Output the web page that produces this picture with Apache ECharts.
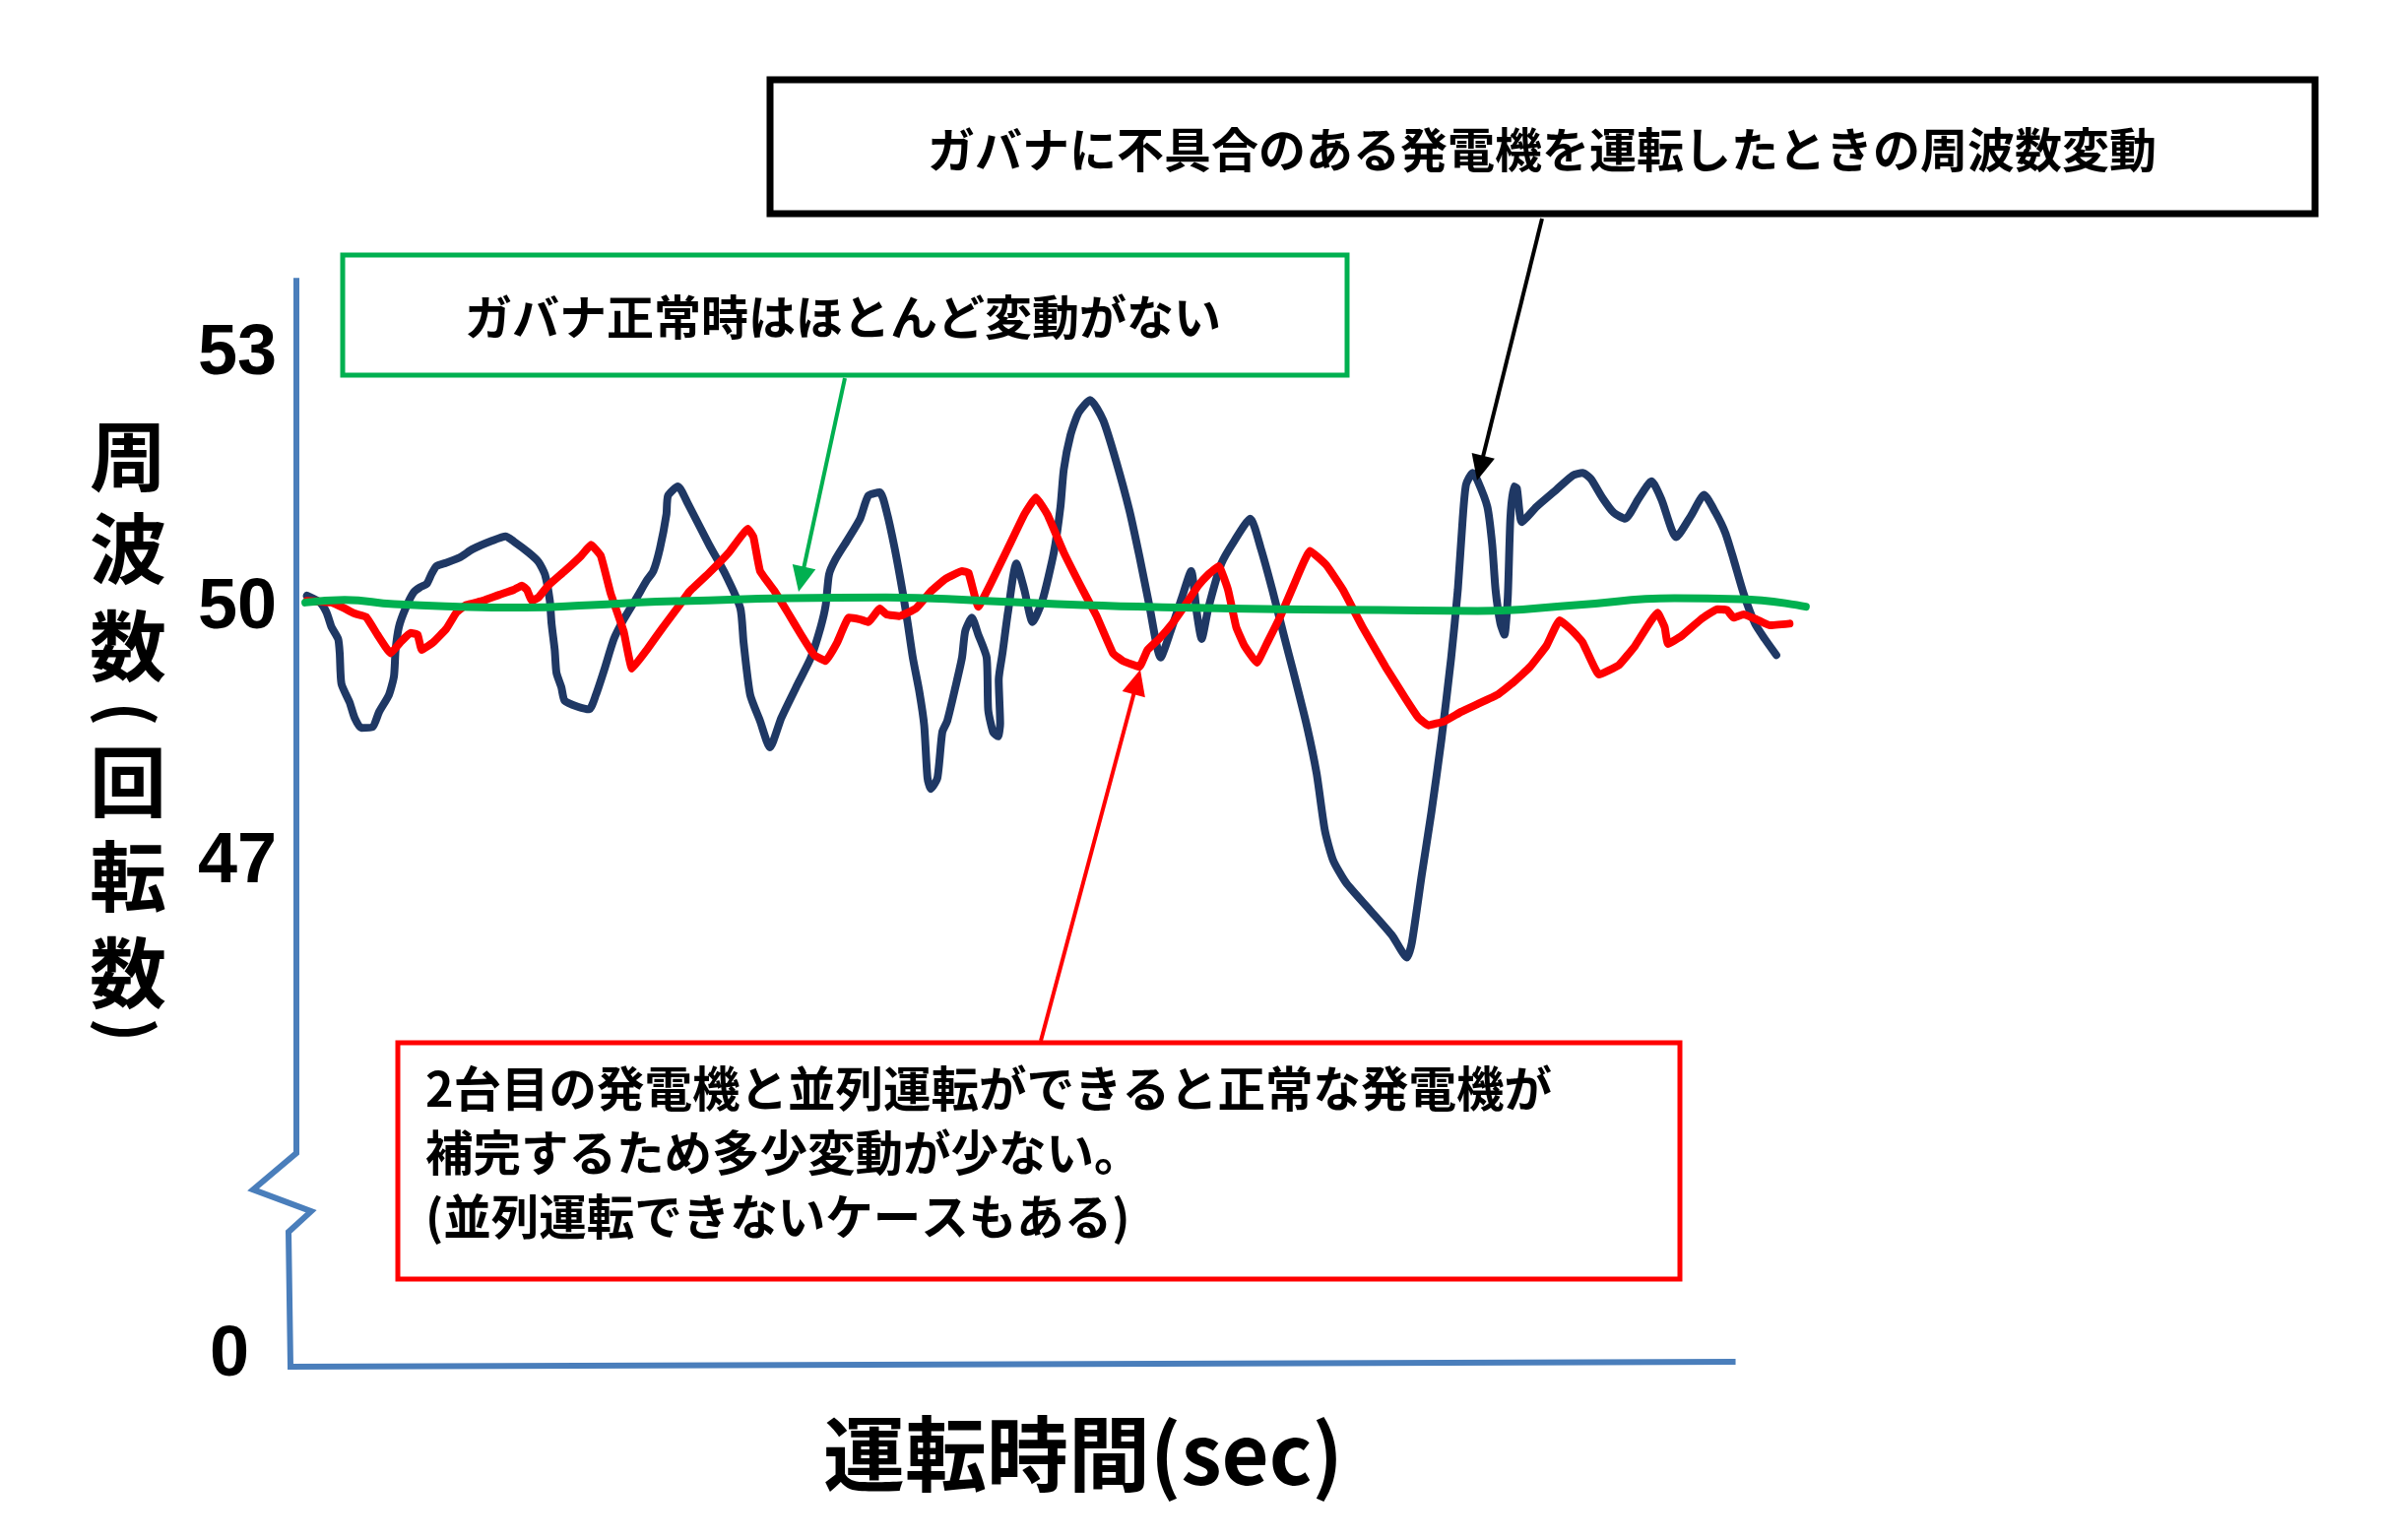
<!DOCTYPE html>
<html><head><meta charset="utf-8">
<script src="https://cdn.jsdelivr.net/npm/echarts@6/dist/echarts.min.js"></script>
<style>html,body{margin:0;padding:0;background:#fff}#c{width:2420px;height:1564px}</style>
</head><body><div id="c"></div>
<script>
// ---- data (time in arbitrary seconds, frequency in Hz) ----
const navyX = [0.73,1.64,2.10,2.44,2.90,3.01,3.13,3.70,4.04,4.50,5.29,5.75,6.43,6.78,6.89,7.12,7.58,8.15,8.60,9.06,9.40,9.74,10.42,11.34,12.25,13.62,14.53,15.11,16.13,16.82,17.27,17.61,17.73,17.95,18.07,18.41,18.64,19.55,20.35,20.81,21.38,22.06,22.74,23.66,24.34,24.80,25.26,25.71,25.82,26.51,27.19,28.68,29.82,30.85,31.07,31.53,32.22,32.90,33.70,34.84,35.75,36.43,36.78,37.01,37.46,38.26,39.17,39.74,40.54,41.00,41.57,42.14,42.48,42.83,43.28,43.62,43.85,44.08,44.54,44.88,45.22,45.79,46.25,46.47,46.93,47.38,47.96,48.07,48.41,48.75,48.90,48.80,49.06,49.44,50.02,50.58,51.15,51.83,52.63,53.09,53.32,53.78,54.35,55.15,56.06,56.97,57.89,58.57,59.26,60.05,60.74,61.53,62.17,62.56,62.90,63.36,64.27,65.18,66.28,67.01,67.81,68.60,69.29,70.20,70.89,71.46,72.03,72.94,74.54,76.13,77.16,77.50,78.19,78.87,79.56,80.24,80.70,81.04,81.27,81.73,82.07,82.75,83.09,83.32,83.66,83.94,84.17,84.35,84.58,84.80,85.15,86.17,87.54,88.69,89.37,89.94,90.73,91.53,92.33,93.24,94.16,94.84,95.87,96.89,97.81,98.61,99.29,99.86,100.55,101.35,102.03,102.83];
const navyY = [50.13,50.05,49.93,49.76,49.62,49.45,49.09,48.87,48.69,48.57,48.58,48.76,48.96,49.18,49.49,49.76,49.98,50.17,50.23,50.27,50.39,50.48,50.52,50.58,50.68,50.78,50.83,50.77,50.64,50.53,50.38,50.07,49.80,49.49,49.22,49.05,48.89,48.82,48.79,48.96,49.25,49.62,49.85,50.11,50.31,50.42,50.69,51.09,51.31,51.42,51.22,50.73,50.38,49.98,49.58,48.96,48.65,48.34,48.69,49.09,49.40,49.76,50.02,50.38,50.56,50.78,51.04,51.31,51.35,51.13,50.69,50.16,49.80,49.40,49.00,48.60,47.98,47.85,47.98,48.52,48.65,49.05,49.40,49.71,49.87,49.67,49.40,48.78,48.52,48.47,48.62,49.14,49.45,49.93,50.51,50.20,49.82,50.07,50.64,51.18,51.62,52.02,52.29,52.44,52.20,51.71,51.13,50.60,50.02,49.40,49.71,50.11,50.42,49.93,49.62,49.98,50.51,50.78,51.04,50.69,50.20,49.67,49.22,48.60,48.03,47.36,47.01,46.74,46.43,46.12,45.86,46.03,46.83,47.58,48.43,49.40,50.20,51.04,51.44,51.58,51.49,51.18,50.73,50.20,49.80,49.67,50.11,51.04,51.42,51.40,51.00,51.18,51.38,51.55,51.58,51.51,51.29,51.11,51.04,51.27,51.48,51.27,50.82,51.07,51.32,51.11,50.87,50.56,50.16,49.80,49.62,49.43];
const redX = [0.73,2.44,3.35,4.04,4.84,5.63,6.55,7.23,7.92,8.42,8.71,9.51,10.42,11.11,11.79,12.94,14.08,15.11,15.67,16.02,16.36,16.82,17.50,18.64,19.78,20.47,21.15,21.83,22.74,23.32,24.34,25.48,26.63,27.31,28.68,30.05,31.37,31.76,32.22,33.24,34.15,35.06,35.98,36.78,37.58,38.38,39.17,39.74,40.54,41.00,41.91,43.05,44.08,45.11,46.25,46.70,47.38,48.29,49.44,50.58,51.38,52.18,53.32,54.69,55.60,56.74,57.43,58.57,59.14,59.94,60.85,61.76,62.67,63.36,64.09,64.73,65.30,65.87,66.73,67.47,68.38,69.29,70.43,71.57,72.72,74.08,75.68,77.05,77.96,78.65,79.79,80.93,82.07,83.44,84.58,85.72,86.86,87.77,88.69,89.37,90.51,91.88,93.02,94.57,95.07,95.30,96.21,97.58,98.73,99.41,99.86,100.55,101.46,102.38,103.75];
const redY = [50.07,50.05,49.98,49.92,49.88,49.67,49.45,49.58,49.69,49.67,49.49,49.58,49.74,49.93,50.02,50.07,50.14,50.20,50.25,50.20,50.07,50.11,50.25,50.42,50.60,50.73,50.60,50.16,49.71,49.27,49.49,49.76,50.02,50.18,50.40,50.64,50.92,50.82,50.42,50.18,49.93,49.67,49.43,49.36,49.58,49.87,49.85,49.82,49.98,49.91,49.89,49.98,50.18,50.33,50.42,50.40,50.00,50.29,50.69,51.09,51.29,51.09,50.64,50.18,49.89,49.45,49.36,49.29,49.49,49.62,49.80,50.02,50.25,50.38,50.48,50.20,49.76,49.54,49.34,49.58,49.89,50.25,50.66,50.49,50.20,49.76,49.29,48.92,48.69,48.60,48.65,48.76,48.85,48.96,49.11,49.29,49.54,49.84,49.71,49.58,49.20,49.31,49.54,49.93,49.76,49.56,49.65,49.85,49.97,49.96,49.87,49.91,49.85,49.78,49.80];
const greenX = [0.62,3.35,6.78,11.34,15.90,20.47,25.03,27.31,34.15,41.00,47.84,54.69,61.53,68.38,75.22,82.07,88.91,95.76,100.32,104.88];
const greenY = [50.05,50.08,50.03,50.00,49.99,50.02,50.06,50.07,50.10,50.11,50.07,50.02,49.99,49.97,49.96,49.95,50.02,50.10,50.09,50.00];
const yTickValues = [0, 47, 50, 53];
const yBreak = {start: 1.8, end: 43.5};
const xAxisEnd = 100;

const titleAbnormal = 'ガバナに不具合のある発電機を運転したときの周波数変動';
const titleNormal = 'ガバナ正常時はほとんど変動がない';
const noteParallel = ['2台目の発電機と並列運転ができると正常な発電機が', '補完するため多少変動が少ない。', '(並列運転できないケースもある)'];
const xTitle = '運転時間(sec)';
const yTitleChars = ['周','波','数','(','回','転','数',')'];

(function () {
const JP = "'Noto Sans CJK JP', 'Noto Sans', sans-serif";
const AXIS_BLUE = '#4a7ebb';
const zip = (xs, ys) => xs.map((x, i) => [x, ys[i]]);
const chart = echarts.init(document.getElementById('c'), null, {renderer: 'canvas'});

const tickFont = {fontSize: 72, fontWeight: 'bold', fontFamily: "'Liberation Sans', Arial, sans-serif", color: '#000'};
chart.setOption({
  animation: false,
  backgroundColor: '#fff',
  grid: {left: 301, right: 580, top: 272, bottom: 176},
  xAxis: {
    type: 'value', min: 0, max: 105.3,
    axisLine: {show: false}, axisTick: {show: false}, axisLabel: {show: false}, splitLine: {show: false}
  },
  yAxis: {
    type: 'value', min: 0, max: 54,
    breaks: [{start: yBreak.start, end: yBreak.end, gap: 0.67}],
    breakArea: {show: false},
    axisLine: {show: false}, axisTick: {show: false}, splitLine: {show: false},
    axisLabel: {
      customValues: yTickValues, margin: 20,
      formatter: v => v === 0 ? '{z|0}' : '{n|' + v + '}',
      rich: {
        n: Object.assign({padding: [0, 0, -4, 0]}, tickFont),
        z: Object.assign({padding: [0, 28, 22, 0]}, tickFont)
      }
    }
  },
  series: [
    {type: 'line', data: zip(navyX, navyY), showSymbol: false, smooth: 0.2, z: 2,
     lineStyle: {color: '#1f3864', width: 8, cap: 'round', join: 'round'}},
    {type: 'line', data: zip(redX, redY), showSymbol: false, smooth: 0.1, z: 3,
     lineStyle: {color: '#ff0000', width: 8, cap: 'round', join: 'round'}},
    {type: 'line', data: zip(greenX, greenY), showSymbol: false, smooth: true, z: 4,
     lineStyle: {color: '#00b050', width: 8, cap: 'round', join: 'round'}}
  ]
});

// ---- axis lines with break mark, annotations ----
const P = (x, y) => chart.convertToPixel({gridIndex: 0}, [x, y]);
const axTop = P(0, 53.88), brk = P(0, yBreak.end + 0.05), zero = P(0, 0), xEnd = P(xAxisEnd, 0);
const ax = axTop[0];
const axisPts = [[ax, axTop[1]], [ax, brk[1]], [ax - 44, brk[1] + 37], [ax + 15, brk[1] + 59], [ax - 8, brk[1] + 80],
                 [ax - 6, zero[1]], [xEnd[0], xEnd[1] - 5]];

function arrow(x1, y1, x2, y2, color, w, hl, hw) {
  const dx = x2 - x1, dy = y2 - y1, L = Math.hypot(dx, dy), ux = dx / L, uy = dy / L;
  const bx = x2 - ux * hl, by = y2 - uy * hl, px = -uy, py = ux;
  return [
    {type: 'line', z: 20, shape: {x1, y1, x2: bx + ux * 2, y2: by + uy * 2}, style: {stroke: color, lineWidth: w}},
    {type: 'polygon', z: 20, shape: {points: [[x2, y2], [bx + px * hw / 2, by + py * hw / 2], [bx - px * hw / 2, by - py * hw / 2]]}, style: {fill: color}}
  ];
}
const txt = (text, x, y, size, extra) => ({type: 'text', z: 30, style: Object.assign({
  text, x, y, fill: '#000', fontSize: size, fontWeight: 'bold', fontFamily: JP, align: 'center', verticalAlign: 'middle'}, extra || {})});

// vertical axis title, one glyph per element; brackets turned to vertical form
const yTitleCenters = [463, 557, 656, 725, 794, 890, 988, 1046];
const yTitle = yTitleChars.map((ch, i) => {
  const isBr = ch === '(' || ch === ')';
  return {type: 'text', z: 30, x: 130, y: yTitleCenters[i], rotation: isBr ? -Math.PI / 2 : 0,
    style: {text: ch, x: 0, y: 0, align: 'center', verticalAlign: 'middle', fill: '#000',
      fontSize: isBr ? 66 : 78, fontWeight: 'bold', fontFamily: JP}};
});

chart.setOption({graphic: [
  {type: 'polyline', z: 5, shape: {points: axisPts}, style: {stroke: AXIS_BLUE, lineWidth: 6, fill: null, lineJoin: 'miter'}},
  {type: 'rect', z: 15, shape: {x: 782, y: 81, width: 1569, height: 136}, style: {fill: '#fff', stroke: '#000', lineWidth: 7}},
  {type: 'rect', z: 15, shape: {x: 348, y: 259, width: 1020, height: 122}, style: {fill: '#fff', stroke: '#00b050', lineWidth: 5}},
  {type: 'rect', z: 15, shape: {x: 404, y: 1059, width: 1302, height: 240}, style: {fill: '#fff', stroke: '#ff0000', lineWidth: 5}},
  ...arrow(1566, 222, 1500, 488, '#000', 4, 26, 24),
  ...arrow(858, 384, 811, 601, '#00b050', 4, 26, 24),
  ...arrow(1057, 1057, 1158, 680, '#ff0000', 4, 26, 24),
  txt(titleAbnormal, 1566, 152, 48),
  txt(titleNormal, 856, 322, 48),
  txt(noteParallel.join('\n'), 432, 1171, 48.5, {align: 'left', lineHeight: 65}),
  txt(xTitle, 1100, 1476, 83),
  ...yTitle
]});
})();
</script>
</body></html>
